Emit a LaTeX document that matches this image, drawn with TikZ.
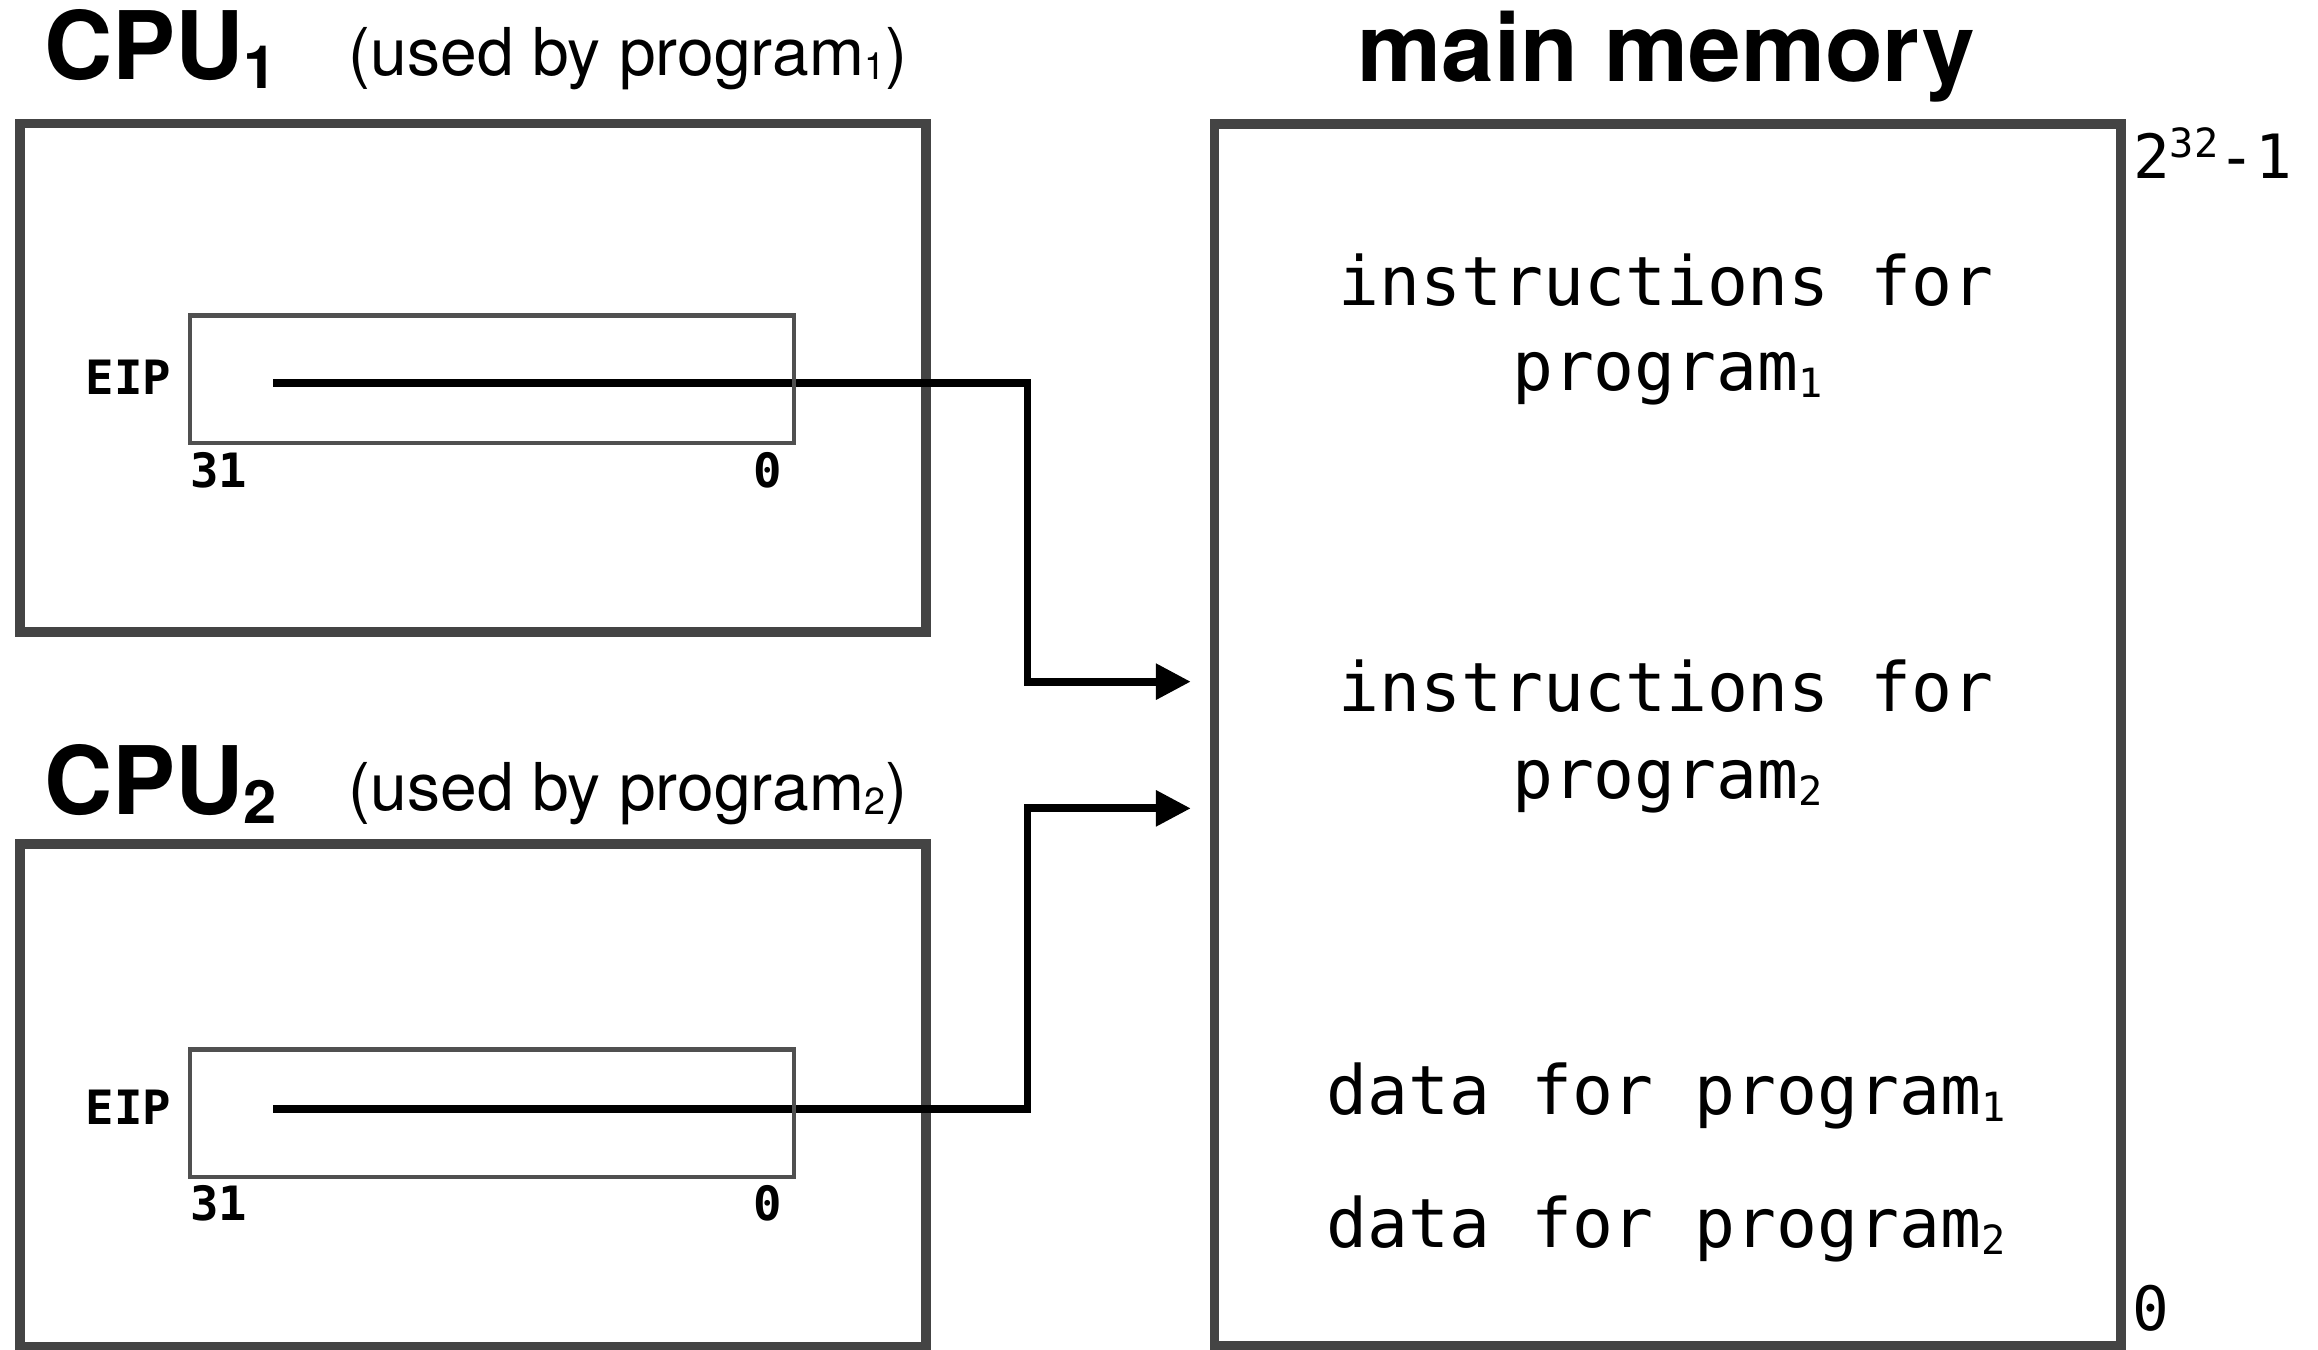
\documentclass[tikz,border=0pt]{standalone}
\usepackage{fontspec}
\setmainfont{TeX Gyre Heros}
\newfontfamily\monofont{DejaVu Sans Mono}
\usetikzlibrary{arrows.meta}
\definecolor{boxgray}{HTML}{444444}
\definecolor{reggray}{HTML}{505050}
% small lowered / raised indices
\newcommand\titleidx[1]{\raisebox{-3.5pt}{\fontsize{23}{23}\selectfont\bfseries #1}}
\newcommand\subidx[1]{\raisebox{-1.5pt}{\fontsize{14.5}{14}\selectfont #1}}
\newcommand\monoidx[1]{\raisebox{-2.8pt}{\fontsize{15.5}{15}\selectfont\monofont #1}}
\newcommand\monosup[1]{\raisebox{8pt}{\fontsize{15.5}{15}\selectfont\monofont #1}}
\begin{document}
\begin{tikzpicture}[x=0.02cm,y=-0.02cm,
  txt/.style={inner sep=0pt, outer sep=0pt},
  title/.style={txt, anchor=base west, font=\fontsize{36.4}{40}\selectfont\bfseries},
  subt/.style={txt, anchor=base west, font=\fontsize{25.4}{30}\selectfont},
  memtxt/.style={txt, anchor=base, font=\fontsize{26.2}{32}\selectfont\monofont},
  regtxt/.style={txt, anchor=base, font=\fontsize{18.2}{22}\selectfont\monofont\bfseries},
  addr/.style={txt, font=\fontsize{23.5}{28}\selectfont\monofont},
  bigbox/.style={draw=boxgray, line width=3.8pt, inner sep=0pt, outer sep=0pt},
  regbox/.style={draw=reggray, line width=1.7pt, inner sep=0pt, outer sep=0pt, minimum width=8.17cm, minimum height=1.72cm},
  ptr/.style={line width=3pt, -{Triangle[length=13.4pt,width=13.2pt]}}
]
\useasboundingbox (0,0) rectangle (1568,913);

% titles
\node[title] (t1) at (30,54) {CPU\titleidx{1}};
\node[subt] (u1) at (236,51) {(used by program\subidx{1})};
\node[title] (t2) at (30,551) {CPU\titleidx{2}};
\node[subt] (u2) at (236,548.4) {(used by program\subidx{2})};
\node[title, anchor=base] (tm) at (1127,55) {main memory};

% big boxes
\node[bigbox, minimum width=12.26cm, minimum height=6.88cm] (cpu1) at (320,255.5) {};
\node[bigbox, minimum width=12.26cm, minimum height=6.804cm] (cpu2) at (320,740.9) {};
\node[bigbox, minimum width=12.26cm, minimum height=16.54cm] (mem) at (1128,497) {};

% connectors
\coordinate (p1) at (185,258.9);
\coordinate (p2) at (185,750.2);
\coordinate (in1) at (805.5,461.1);
\coordinate (in2) at (805.5,546.8);

\draw[ptr] (p1) -- (695,258.9) |- (in1);
\draw[ptr] (p2) -- (695,750.2) |- (in2);

% registers (their borders lie over the connectors)
\node[regbox] (reg1) at (332.75,256.5) {};
\node[regbox] (reg2) at (332.75,753) {};

\node[regtxt] (eip1) at (87,266.6) {EIP};
\node[regtxt] (hi1) at (148,329.6) {31};
\node[regtxt] (lo1) at (519.5,329.6) {0};
\node[regtxt] (eip2) at (87,760.4) {EIP};
\node[regtxt] (hi2) at (148,825.3) {31};
\node[regtxt] (lo2) at (519.5,825.3) {0};

% memory contents
\node[memtxt] (m1a) at (1127,206.5) {instructions for};
\node[memtxt] (m1b) at (1128,264) {program\monoidx{1}};
\node[memtxt] (m2a) at (1127,481) {instructions for};
\node[memtxt] (m2b) at (1128,540) {program\monoidx{2}};
\node[memtxt] (d1) at (1127,753.8) {data for program\monoidx{1}};
\node[memtxt] (d2) at (1127,843.8) {data for program\monoidx{2}};

% addresses
\node[addr, anchor=base west] (top) at (1443,120.5) {2\monosup{32}-1};
\node[addr, anchor=base] (bot) at (1455,899.7) {0};
\end{tikzpicture}
\end{document}
